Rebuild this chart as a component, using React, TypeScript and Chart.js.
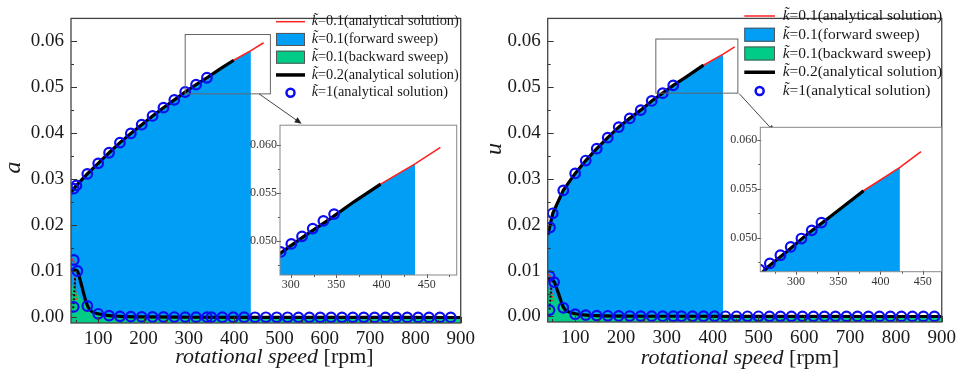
import React, { useEffect, useRef } from "react";
import { Chart, registerables } from "chart.js";

Chart.register(...registerables);

const FONT = "'Liberation Serif', 'Times New Roman', serif";
const BLUE = "#009ef5";
const GREEN = "#00cc88";
const RED = "#ff2020";
const BLACK = "#000000";
const RING = "#0c0cf0";

// ---------- ticks ----------
const xMajorTicks = [100, 200, 300, 400, 500, 600, 700, 800, 900];
const xMinorTicks = [50, 150, 250, 350, 450, 550, 650, 750, 850];
const yMajorTicks = [0, 0.01, 0.02, 0.03, 0.04, 0.05, 0.06];
const yMinorTicks = [0.005, 0.015, 0.025, 0.035, 0.045, 0.055];
const insetYMajor = [0.05, 0.055, 0.06];
const insetYMinor = [0.0475, 0.0525, 0.0575];
const insetXMajor = [300, 350, 400, 450];
const insetXMinor = [275, 325, 375, 425, 475];

// ---------- legend ----------
const legendKey = "k\u0303";
const legendLabels = [
  "=0.1(analytical solution)",
  "=0.1(forward sweep)",
  "=0.1(backward sweep)",
  "=0.2(analytical solution)",
  "=1(analytical solution)",
];

// ---------- panel (a) ----------
const rpmUpperA = [40, 46, 52, 76, 100, 124, 148, 172, 196, 220, 244, 268, 292, 316, 340, 370, 399, 437, 465];
const aUpper = [0.0273, 0.028, 0.0287, 0.0312, 0.0335, 0.0358, 0.038, 0.04, 0.0419, 0.0438, 0.0456, 0.0473, 0.049, 0.0506, 0.0521, 0.0541, 0.0559, 0.058, 0.0597];
const forwardCountA = 18; // forward sweep ends at 437 rpm
const k02UpperCountA = 17; // k=0.2 upper branch ends at 399 rpm

const rpmLowK02A = [40, 44, 48, 52, 55, 60, 66, 72, 78, 86, 100, 124, 148, 200, 300, 500, 900];
const aLowK02 = [0.0104, 0.0104, 0.0103, 0.0102, 0.0099, 0.0082, 0.006, 0.0038, 0.0022, 0.0013, 0.0008, 0.0004, 0.00025, 0.00012, 0.00005, 0.00002, 0.0];
const rpmUnstableK02A = [45, 47, 49];
const aUnstableK02 = [0.002, 0.005, 0.0085];
const rpmLowK01A = [40, 44, 47];
const aLowK01 = [0.0128, 0.0126, 0.0118];
const rpmUnstableK01A = [47, 49.5, 52];
const aUnstableK01 = [0.011, 0.0072, 0.0037];
const rpmBackwardA = [40, 45, 50, 56, 62, 70, 78, 88, 100, 124, 148, 200, 300, 500, 900];
const aBackward = [0.0072, 0.0068, 0.006, 0.005, 0.0042, 0.0033, 0.0025, 0.0016, 0.0009, 0.0004, 0.00025, 0.00012, 0.00005, 0.0, 0.0];

const rpmK1UpA = [46, 52, 76, 100, 124, 148, 172, 196, 220, 244, 268, 292, 316, 340];
const aK1Up = [0.028, 0.0287, 0.0312, 0.0335, 0.0358, 0.038, 0.04, 0.0419, 0.0438, 0.0456, 0.0473, 0.049, 0.0506, 0.0521];
const rpmK1LowA = [46, 54, 46, 76, 100, 124, 148, 172, 196, 220, 244, 268, 292, 316, 340, 350, 374, 398, 422, 446, 470, 494, 518, 542, 566, 590, 614, 638, 662, 686, 710, 734, 758, 782, 806, 830, 854, 878];
const aK1Low = [0.0125, 0.0101, 0.0023, 0.0025, 0.0008, 0.0004, 0.00025, 0.00018, 0.00013, 0.00011, 0.0001, 0.00009, 0.00008, 0.00007, 0.00006, 0.00006, 0.00005, 0.00005, 0.00005, 0.00004, 0.00004, 0.00004, 0.00004, 0.00003, 0.00003, 0.00003, 0.00003, 0.00003, 0.00003, 0.00003, 0.00002, 0.00002, 0.00002, 0.00002, 0.00002, 0.00002, 0.00002, 0.00002];
const rpmInsetK1A = [288.7, 300.5, 312.3, 324.1, 335.9, 347.7];
const aInsetK1 = [0.04889, 0.04972, 0.0505, 0.0513, 0.0521, 0.0528];
const zoomBoxA = [292, 480, 0.0486, 0.0615];
const zoomArrowA = [455, 0.0486, 549, 0.0421];

// ---------- panel (u) ----------
const rpmUpperU = [40, 44, 51, 74, 100, 123, 147, 171, 195, 219, 243, 267, 291, 314, 340, 380, 423, 448];
const uUpper = [0.0178, 0.0194, 0.0225, 0.0275, 0.0312, 0.034, 0.0366, 0.039, 0.0413, 0.0432, 0.045, 0.047, 0.0487, 0.0504, 0.0521, 0.0548, 0.0572, 0.0588];
const forwardCountU = 17; // ends at 423 rpm
const k02UpperCountU = 16; // ends at 380 rpm

const rpmLowK02U = [40, 44, 48, 52, 55, 60, 66, 72, 78, 86, 100, 123, 147, 200, 300, 500, 900];
const uLowK02 = [0.0082, 0.0082, 0.0081, 0.0078, 0.0074, 0.006, 0.0043, 0.0025, 0.0015, 0.001, 0.0006, 0.0003, 0.0002, 0.0001, 0.00005, 0.00002, 0.0];
const rpmUnstableK02U = [44, 46, 48];
const uUnstableK02 = [0.0015, 0.004, 0.0068];
const rpmLowK01U = [40, 44, 46];
const uLowK01 = [0.0092, 0.009, 0.0086];
const rpmUnstableK01U = [46, 49, 52];
const uUnstableK01 = [0.0082, 0.0055, 0.003];
const rpmBackwardU = [40, 45, 50, 56, 62, 70, 78, 88, 100, 124, 148, 200, 300, 500, 900];
const uBackward = [0.0062, 0.0058, 0.0052, 0.0044, 0.0036, 0.0027, 0.0019, 0.0012, 0.0007, 0.0003, 0.0002, 0.0001, 0.00004, 0.0, 0.0];

const rpmK1UpU = [45, 51, 74, 100, 123, 147, 171, 195, 219, 243, 267, 291, 314];
const uK1Up = [0.0194, 0.0225, 0.0275, 0.0312, 0.034, 0.0366, 0.039, 0.0413, 0.0432, 0.045, 0.047, 0.0487, 0.0504];
const rpmK1LowU = [44, 54, 44, 74, 100, 123, 147, 171, 195, 219, 243, 267, 291, 314, 332, 356, 380, 404, 428, 452, 476, 500, 524, 548, 572, 596, 620, 644, 668, 692, 716, 740, 764, 788, 812, 836, 860, 884];
const uK1Low = [0.0088, 0.0075, 0.0014, 0.0019, 0.0005, 0.0003, 0.0002, 0.00015, 0.00012, 0.0001, 0.00009, 0.00008, 0.00007, 0.00006, 0.00006, 0.00005, 0.00005, 0.00005, 0.00004, 0.00004, 0.00004, 0.00004, 0.00003, 0.00003, 0.00003, 0.00003, 0.00003, 0.00003, 0.00003, 0.00002, 0.00002, 0.00002, 0.00002, 0.00002, 0.00002, 0.00002, 0.00002, 0.00002];
const rpmInsetK1U = [257, 269, 281.5, 293.7, 306.4, 318.6, 330.1];
const uInsetK1 = [0.0467, 0.04735, 0.04819, 0.04904, 0.0499, 0.05074, 0.05153];
const zoomBoxU = [276, 455, 0.0487, 0.0605];
const zoomArrowU = [458, 0.0486, 535, 0.0402];

// ---------- helpers ----------
const pts = (xs: number[], ys: number[]) => xs.map((x, i) => ({ x, y: ys[i] }));

const line = (data: any[], color: string, width: number, order: number, extra: any = {}) => ({
  data,
  borderColor: color,
  borderWidth: width,
  pointRadius: 0,
  fill: false,
  tension: 0,
  order,
  ...extra,
});

const area = (data: any[], color: string, order: number) => ({
  data,
  borderColor: "rgba(0,0,0,0)",
  borderWidth: 0,
  backgroundColor: color,
  pointRadius: 0,
  fill: "start",
  tension: 0,
  order,
});

const rings = (data: any[], r: number, bw: number) => ({
  data,
  showLine: false,
  pointRadius: r,
  pointBorderWidth: bw,
  pointBorderColor: RING,
  pointBackgroundColor: "rgba(0,0,0,0)",
  order: 0,
});

const decorPlugin = {
  id: "decor",
  beforeDraw(chart: any, _a: any, o: any) {
    if (!o || !o.areaBg) return;
    const { ctx, chartArea: a } = chart;
    ctx.save();
    ctx.fillStyle = o.areaBg;
    ctx.fillRect(a.left, a.top, a.right - a.left, a.bottom - a.top);
    ctx.restore();
  },
  afterDraw(chart: any, _a: any, o: any) {
    if (!o) return;
    const { ctx, chartArea: a, scales } = chart;
    const xs = scales.x;
    const ys = scales.y;
    ctx.save();
    // ticks
    ctx.strokeStyle = o.tickColor;
    ctx.lineWidth = 1;
    const xt = (vals: number[], inL: number, outL: number) =>
      vals.forEach((v) => {
        if (v < xs.min || v > xs.max) return;
        const p = Math.round(xs.getPixelForValue(v)) + 0.5;
        ctx.beginPath();
        ctx.moveTo(p, a.bottom + outL);
        ctx.lineTo(p, a.bottom - inL);
        ctx.stroke();
      });
    const yt = (vals: number[], inL: number, outL: number) =>
      vals.forEach((v) => {
        if (v < ys.min || v > ys.max) return;
        const p = Math.round(ys.getPixelForValue(v)) + 0.5;
        ctx.beginPath();
        ctx.moveTo(a.left - outL, p);
        ctx.lineTo(a.left + inL, p);
        ctx.stroke();
      });
    xt(o.xMajor, o.majIn, o.majOut);
    xt(o.xMinor, o.minIn, o.minOut);
    yt(o.yMajor, o.majIn, o.majOut);
    yt(o.yMinor, o.minIn, o.minOut);
    // frame
    ctx.strokeStyle = o.frameColor;
    ctx.lineWidth = o.frameWidth;
    ctx.strokeRect(a.left, a.top, a.right - a.left, a.bottom - a.top);

    // zoom box + arrow
    if (o.zoomBox) {
      const [x0, x1, y0, y1] = o.zoomBox;
      const px0 = xs.getPixelForValue(x0), px1 = xs.getPixelForValue(x1);
      const py0 = ys.getPixelForValue(y0), py1 = ys.getPixelForValue(y1);
      ctx.strokeStyle = "#666";
      ctx.lineWidth = 1;
      ctx.strokeRect(px0, py1, px1 - px0, py0 - py1);
      const [ax0, ay0, ax1, ay1] = o.zoomArrow;
      const sx = xs.getPixelForValue(ax0), sy = ys.getPixelForValue(ay0);
      const ex = xs.getPixelForValue(ax1), ey = ys.getPixelForValue(ay1);
      const ang = Math.atan2(ey - sy, ex - sx);
      ctx.strokeStyle = "#444";
      ctx.beginPath();
      ctx.moveTo(sx, sy);
      ctx.lineTo(ex - 5 * Math.cos(ang), ey - 5 * Math.sin(ang));
      ctx.stroke();
      ctx.fillStyle = "#222";
      ctx.beginPath();
      ctx.moveTo(ex, ey);
      ctx.lineTo(ex - 7 * Math.cos(ang) + 3 * Math.sin(ang), ey - 7 * Math.sin(ang) - 3 * Math.cos(ang));
      ctx.lineTo(ex - 7 * Math.cos(ang) - 3 * Math.sin(ang), ey - 7 * Math.sin(ang) + 3 * Math.cos(ang));
      ctx.closePath();
      ctx.fill();
    }

    // titles
    if (o.xTitle) {
      const t = o.xTitle;
      ctx.fillStyle = "#1a1a1a";
      ctx.textBaseline = "alphabetic";
      ctx.textAlign = "left";
      ctx.font = `italic ${t.size}px ${FONT}`;
      const w1 = ctx.measureText(t.italic).width;
      ctx.font = `${t.size}px ${FONT}`;
      const w2 = ctx.measureText(t.roman).width;
      const start = t.cx - (w1 + w2) / 2;
      ctx.font = `italic ${t.size}px ${FONT}`;
      ctx.fillText(t.italic, start, t.base);
      ctx.font = `${t.size}px ${FONT}`;
      ctx.fillText(t.roman, start + w1, t.base);
    }
    if (o.yTitle) {
      const t = o.yTitle;
      ctx.save();
      ctx.translate(t.cx + t.size * 0.225, t.cy);
      ctx.rotate(-Math.PI / 2);
      ctx.fillStyle = "#1a1a1a";
      ctx.font = `italic ${t.size}px ${FONT}`;
      ctx.textAlign = "center";
      ctx.textBaseline = "alphabetic";
      ctx.fillText(t.text, 0, 0);
      ctx.restore();
    }

    // legend
    if (o.legend) {
      const L = o.legend;
      const kinds = ["line-red", "box-blue", "box-green", "line-black", "ring"];
      kinds.forEach((k, i) => {
        const y = L.y0 + i * L.dy;
        if (k === "line-red" || k === "line-black") {
          ctx.strokeStyle = k === "line-red" ? RED : BLACK;
          ctx.lineWidth = k === "line-red" ? 1.5 : 3.5;
          ctx.beginPath();
          ctx.moveTo(L.x0, y);
          ctx.lineTo(L.x1, y);
          ctx.stroke();
        } else if (k === "box-blue" || k === "box-green") {
          ctx.fillStyle = k === "box-blue" ? BLUE : GREEN;
          ctx.fillRect(L.x0, y - L.boxH / 2, L.x1 - L.x0, L.boxH);
          ctx.strokeStyle = "#555";
          ctx.lineWidth = 1;
          ctx.strokeRect(L.x0 + 0.5, y - L.boxH / 2 + 0.5, L.x1 - L.x0 - 1, L.boxH - 1);
        } else {
          ctx.strokeStyle = RING;
          ctx.lineWidth = 2.5;
          ctx.beginPath();
          ctx.arc((L.x0 + L.x1) / 2, y, 4, 0, Math.PI * 2);
          ctx.stroke();
        }
        ctx.fillStyle = "#1a1a1a";
        ctx.textBaseline = "middle";
        ctx.textAlign = "left";
        ctx.font = `italic ${L.size}px ${FONT}`;
        ctx.fillText(legendKey, L.tx, y);
        const kw = ctx.measureText(legendKey).width;
        ctx.font = `${L.size}px ${FONT}`;
        ctx.fillText(legendLabels[i], L.tx + kw, y);
      });
    }
    ctx.restore();
  },
};

const fixedTicks = (vals: number[]) => (s: any) => {
  s.ticks = vals.map((v) => ({ value: v }));
};

function scaleCfg(min: number, max: number, ticks: number[], size: number, pad: number, fit: (s: any) => void, fmt: (v: number) => string, color: string) {
  return {
    type: "linear",
    min,
    max,
    afterBuildTicks: fixedTicks(ticks),
    afterFit: fit,
    grid: { display: false, drawTicks: false },
    border: { display: false },
    ticks: {
      font: { family: FONT, size },
      color,
      padding: pad,
      maxRotation: 0,
      minRotation: 0,
      autoSkip: false,
      callback: (v: any) => fmt(Number(v)),
    },
  };
}

function mainConfig(p: any) {
  return {
    type: "line",
    data: { datasets: p.datasets },
    plugins: [decorPlugin],
    options: {
      responsive: false,
      animation: false,
      devicePixelRatio: 1,
      events: [],
      layout: { padding: p.padding },
      plugins: {
        legend: { display: false },
        tooltip: { enabled: false },
        decor: {
          tickColor: "#333",
          frameColor: "#444",
          frameWidth: 1.3,
          xMajor: xMajorTicks,
          xMinor: xMinorTicks,
          yMajor: yMajorTicks,
          yMinor: yMinorTicks,
          majIn: 6,
          majOut: 0,
          minIn: 3,
          minOut: 0,
          zoomBox: p.zoomBox,
          zoomArrow: p.zoomArrow,
          xTitle: p.xTitle,
          yTitle: p.yTitle,
          legend: p.legend,
        },
      },
      scales: {
        x: scaleCfg(40, 900, xMajorTicks, 19, 5, (s: any) => { s.height = p.xH; }, (v) => String(v), "#1a1a1a"),
        y: scaleCfg(-0.0012, 0.065, yMajorTicks, 19, 7, (s: any) => { s.width = p.yW; }, (v) => v.toFixed(2), "#1a1a1a"),
      },
    },
  };
}

function insetConfig(p: any) {
  return {
    type: "line",
    data: { datasets: p.datasets },
    plugins: [decorPlugin],
    options: {
      responsive: false,
      animation: false,
      devicePixelRatio: 1,
      events: [],
      layout: { padding: p.padding },
      plugins: {
        legend: { display: false },
        tooltip: { enabled: false },
        decor: {
          areaBg: "#ffffff",
          tickColor: "#555",
          frameColor: "#888",
          frameWidth: 1,
          xMajor: insetXMajor,
          xMinor: insetXMinor,
          yMajor: insetYMajor,
          yMinor: insetYMinor,
          majIn: 1,
          majOut: 3,
          minIn: 0,
          minOut: 2,
        },
      },
      scales: {
        x: scaleCfg(p.xMin, p.xMax, insetXMajor, 12, 2.5, (s: any) => { s.height = p.xH; }, (v) => String(v), "#333"),
        y: scaleCfg(p.yMin, p.yMax, insetYMajor, 12, 3, (s: any) => { s.width = p.yW; }, (v) => v.toFixed(3), "#333"),
      },
    },
  };
}

function mainDatasets(
  rpmUp: number[], up: number[], fwdN: number, k02N: number,
  rpmLow: number[], low: number[], rpmUnst: number[], unst: number[],
  rpmLow01: number[], low01: number[], rpmUnst01: number[], unst01: number[],
  rpmBack: number[], back: number[],
  rpmRUp: number[], rUp: number[], rpmRLow: number[], rLow: number[]
) {
  return [
    area(pts(rpmUp.slice(0, fwdN), up.slice(0, fwdN)), BLUE, 10),
    area(pts(rpmBack, back), GREEN, 9),
    line(pts(rpmUp, up), RED, 1.6, 6),
    line(pts(rpmLow01, low01), RED, 1.6, 6),
    line(pts(rpmUnst01, unst01), RED, 1.5, 5, { borderDash: [1.5, 2] }),
    line(pts(rpmUp.slice(0, k02N), up.slice(0, k02N)), BLACK, 3.2, 3),
    line(pts(rpmLow, low), BLACK, 3.2, 3, { cubicInterpolationMode: "monotone" }),
    line(pts(rpmUnst, unst), BLACK, 2, 3, { borderDash: [2, 2] }),
    rings(pts(rpmRUp.concat(rpmRLow), rUp.concat(rLow)), 4.8, 2.2),
  ];
}

function insetDatasets(rpmUp: number[], up: number[], fwdN: number, k02N: number, rpmR: number[], r: number[]) {
  return [
    area(pts(rpmUp.slice(0, fwdN), up.slice(0, fwdN)), BLUE, 10),
    line(pts(rpmUp, up), RED, 1.6, 6),
    line(pts(rpmUp.slice(0, k02N), up.slice(0, k02N)), BLACK, 3.2, 3),
    rings(pts(rpmR, r), 4.8, 2.2),
  ];
}

function ChartCanvas({ config, left, top, w, h }: any) {
  const ref = useRef<HTMLCanvasElement>(null);
  useEffect(() => {
    const c = new Chart(ref.current as HTMLCanvasElement, config as any);
    return () => c.destroy();
  }, []);
  return (
    <canvas
      ref={ref}
      width={w}
      height={h}
      style={{ position: "absolute", left, top, width: w, height: h, display: "block" }}
    />
  );
}

export default function App() {
  const cfgA = mainConfig({
    datasets: mainDatasets(
      rpmUpperA, aUpper, forwardCountA, k02UpperCountA,
      rpmLowK02A, aLowK02, rpmUnstableK02A, aUnstableK02,
      rpmLowK01A, aLowK01, rpmUnstableK01A, aUnstableK01,
      rpmBackwardA, aBackward,
      rpmK1UpA, aK1Up, rpmK1LowA, aK1Low
    ),
    padding: { left: 0, right: 19.3, top: 10, bottom: 0 },
    xH: 51,
    yW: 71,
    zoomBox: zoomBoxA,
    zoomArrow: zoomArrowA,
    xTitle: { italic: "rotational speed", roman: " [rpm]", size: 22, cx: 274.5, base: 363 },
    yTitle: { text: "a", size: 24, cx: 15, cy: 167.5 },
    legend: { x0: 276, x1: 305, tx: 311.7, y0: 21.7, dy: 17.75, size: 14.3, boxH: 13 },
  });
  const cfgU = mainConfig({
    datasets: mainDatasets(
      rpmUpperU, uUpper, forwardCountU, k02UpperCountU,
      rpmLowK02U, uLowK02, rpmUnstableK02U, uUnstableK02,
      rpmLowK01U, uLowK01, rpmUnstableK01U, uUnstableK01,
      rpmBackwardU, uBackward,
      rpmK1UpU, uK1Up, rpmK1LowU, uK1Low
    ),
    padding: { left: 0, right: 16, top: 2.7, bottom: 0 },
    xH: 52,
    yW: 66.7,
    zoomBox: zoomBoxU,
    zoomArrow: zoomArrowU,
    xTitle: { italic: "rotational speed", roman: " [rpm]", size: 22, cx: 259, base: 364 },
    yTitle: { text: "u", size: 24, cx: 15, cy: 149 },
    legend: { x0: 263.3, x1: 294, tx: 301.7, y0: 16, dy: 18.75, size: 15.5, boxH: 14 },
  });
  const insetA = insetConfig({
    datasets: insetDatasets(rpmUpperA, aUpper, forwardCountA, k02UpperCountA, rpmInsetK1A, aInsetK1),
    padding: { left: 0, right: 13.3, top: 9.3, bottom: 0 },
    xH: 25,
    yW: 40,
    xMin: 288,
    xMax: 483,
    yMin: 0.0465,
    yMax: 0.062,
  });
  const insetU = insetConfig({
    datasets: insetDatasets(rpmUpperU, uUpper, forwardCountU, k02UpperCountU, rpmInsetK1U, uInsetK1),
    padding: { left: 0, right: 18.3, top: 12.3, bottom: 0 },
    xH: 28.3,
    yW: 40.3,
    xMin: 257.7,
    xMax: 472.5,
    yMin: 0.0465,
    yMax: 0.0613,
  });
  return (
    <div style={{ position: "absolute", left: 0, top: 0, width: 961, height: 374, background: "#ffffff", overflow: "hidden" }}>
      <ChartCanvas config={cfgA} left={0} top={0} w={480} h={374} />
      <ChartCanvas config={cfgU} left={481} top={0} w={480} h={374} />
      <ChartCanvas config={insetA} left={240} top={115} w={230} h={185} />
      <ChartCanvas config={insetU} left={720} top={115} w={240} h={185} />
    </div>
  );
}
